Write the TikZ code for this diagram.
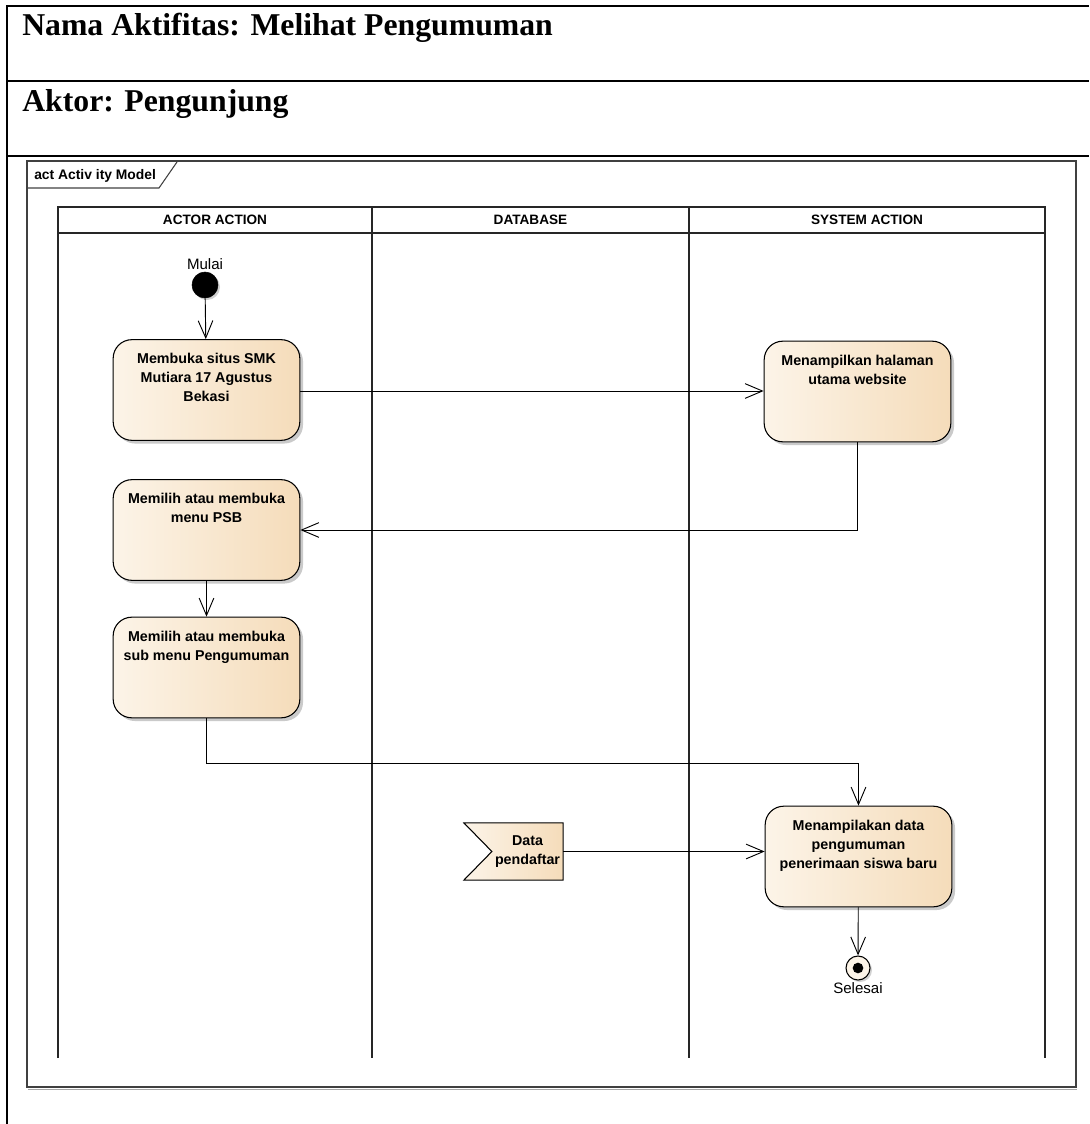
\documentclass[tikz,border=0pt]{standalone}
\usepackage{fontspec}
\setmainfont{Liberation Serif}
\setsansfont{Liberation Sans}
\usetikzlibrary{arrows.meta,shadows,calc}
\definecolor{actL}{HTML}{FCF4E8}
\definecolor{actR}{HTML}{F5DCBA}
\definecolor{frameC}{HTML}{404040}
\begin{document}
\begin{tikzpicture}[x=0.75pt,y=-0.75pt,
  rule/.style={line width=1.3pt},
  lane/.style={line width=1pt, draw=black!85},
  flow/.style={line width=0.7pt, -{Straight Barb[length=13pt,width=11pt,line width=0.7pt]}},
  hdr/.style={font=\sffamily\bfseries\fontsize{10.2}{12}\selectfont},
  act/.style={draw, line width=0.8pt, rounded corners=14pt,
    minimum width=140pt, minimum height=75.5pt,
    left color=actL, right color=actR,
    drop shadow={shadow xshift=2.4pt, shadow yshift=-2.4pt, fill=black!35, opacity=0.6}},
  acttext/.style={font=\sffamily\bfseries\fontsize{10.7}{14.3}\selectfont, align=center, anchor=north, inner sep=0pt},
  small/.style={font=\sffamily\fontsize{11.3}{13}\selectfont}
]
\useasboundingbox (0,0) rectangle (1089,1124);

% outer form table
\draw[rule] (7,1124) -- (7,6) -- (1089,6);
\draw[rule] (7,81) -- (1089,81);
\draw[rule] (7,156) -- (1089,156);
\node[anchor=base west, inner sep=0pt, font=\bfseries\fontsize{23.8}{26}\selectfont] (title) at (22,36) {Nama Aktifitas: Melihat Pengumuman};
\node[anchor=base west, inner sep=0pt, font=\bfseries\fontsize{23.8}{26}\selectfont] (actor) at (22,112) {Aktor: Pengunjung};

% diagram frame with name tab
\draw[line width=0.8pt, draw=frameC] (27,161) rectangle (1076,1087);
\draw[line width=0.4pt, draw=black!35] (28,1089) -- (1077,1089);
\draw[line width=0.8pt, draw=frameC] (27,188) -- (159,188) -- (177,162);
\node[anchor=base west, inner sep=0pt, font=\sffamily\bfseries\fontsize{10.4}{12}\selectfont] (tab) at (34,179) {act Activ ity Model};

% swimlanes
\draw[lane] (58,1058) -- (58,207) -- (1045,207) -- (1045,1058);
\draw[lane] (58,233) -- (1045,233);
\draw[lane] (372,207) -- (372,1058);
\draw[lane] (689,207) -- (689,1058);
\node[hdr] (h1) at (215,220) {ACTOR ACTION};
\node[hdr] (h2) at (530.5,220) {DATABASE};
\node[hdr] (h3) at (867,220) {SYSTEM ACTION};

% start node
\node[circle, fill=black, draw=black, minimum size=19.5pt, inner sep=0pt,
  drop shadow={shadow xshift=1.5pt, shadow yshift=-1.5pt, fill=black!30, opacity=0.6},
  label={[small, inner sep=1pt]above:Mulai}] (start) at (205,285) {};

% actions
\node[act] (a1) at (206.5,390) {};
\node[acttext] (a1t) at ($(a1.north)+(0,14)$) {Membuka situs SMK\\Mutiara 17 Agustus\\Bekasi};
\node[act] (a2) at (857.5,391.5) {};
\node[acttext] (a2t) at ($(a2.north)+(0,14)$) {Menampilkan halaman\\utama website};
\node[act] (a3) at (206.5,530) {};
\node[acttext] (a3t) at ($(a3.north)+(0,14)$) {Memilih atau membuka\\menu PSB};
\node[act] (a4) at (206.5,667.5) {};
\node[acttext] (a4t) at ($(a4.north)+(0,14)$) {Memilih atau membuka\\sub menu Pengumuman};
\node[act] (a5) at (858.5,856.5) {};
\node[acttext] (a5t) at ($(a5.north)+(0,14)$) {Menampilakan data\\pengumuman\\penerimaan siswa baru};

% data object (receive signal shape)
\node[minimum width=53pt, minimum height=42.5pt, inner sep=0pt] (dp) at (527.5,851.5) {};
\fill[black!35, opacity=0.6, xshift=2.4pt, yshift=-2.4pt]
  (dp.north east) -- (dp.south east) -- ($(dp.south west)+(-28,0)$) -- (dp.west) -- ($(dp.north west)+(-28,0)$) -- cycle;
\draw[line width=0.8pt, left color=actL, right color=actR]
  (dp.north east) -- (dp.south east) -- ($(dp.south west)+(-28,0)$) -- (dp.west) -- ($(dp.north west)+(-28,0)$) -- cycle;
\node[font=\sffamily\bfseries\fontsize{10.7}{14.3}\selectfont, align=center, inner sep=0pt] (dpt) at (dp) {Data\\pendaftar};

% final node
\node[circle, draw=black, line width=0.8pt, fill=actL, minimum size=18pt, inner sep=0pt,
  drop shadow={shadow xshift=1.5pt, shadow yshift=-1.5pt, fill=black!30, opacity=0.6},
  label={[small, inner sep=1pt]below:Selesai}] (end) at (858,968) {};
\node[circle, fill=black, minimum size=8pt, inner sep=0pt] (endc) at (end) {};

% control flows
\draw[flow] (start) -- (a1);
\draw[flow] (a1.east |- 0,391) -- (a2.west |- 0,391);
\draw[flow] (a2.south) |- (a3.east);
\draw[flow] (a3) -- (a4);
\draw[flow] (a4.south) -- ++(0,45) -| (a5.north);
\draw[flow] (dp.east) -- (dp.east -| a5.west);
\draw[flow] (a5) -- (end);
\end{tikzpicture}
\end{document}
